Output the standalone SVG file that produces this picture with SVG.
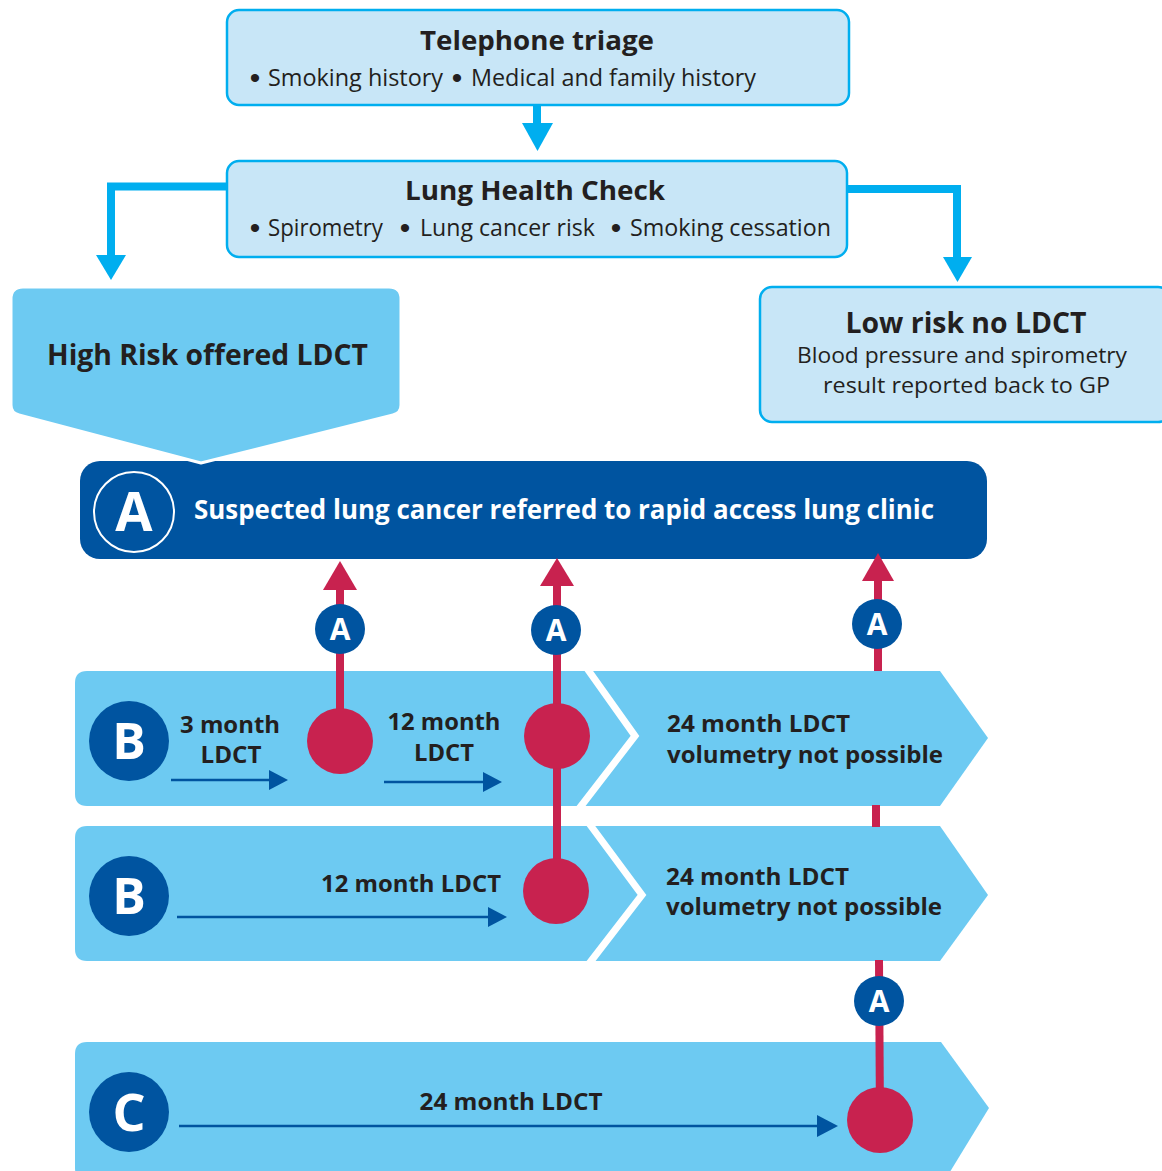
<svg xmlns="http://www.w3.org/2000/svg" width="1162" height="1171" viewBox="0 0 1162 1171">
<style>
.box{fill:#c8e6f7;stroke:#00aeef;stroke-width:2.5}
.row{fill:#6dcaf2}
.t{font-family:'Open Sans','Noto Sans',sans-serif;fill:#231f20}
.b{font-weight:700}
.w{fill:#fff}
.bul{font-family:'Liberation Sans',Arial,sans-serif;font-size:30px;text-anchor:middle;fill:#231f20}
.cy{stroke:#00aeef;stroke-width:8;fill:none}
.cyh{fill:#00aeef}
.red{stroke:#c8224f;stroke-width:8}
.redh{fill:#c8224f}
.dot{fill:#c8224f}
.nav{stroke:#0054a0;stroke-width:2.5}
.navh{fill:#0054a0}
.dk{fill:#0054a0}
.chev{fill:none;stroke:#fff;stroke-width:7}
</style>
<rect width="1162" height="1171" fill="#fff"/>

<g id="telephone-triage">
<rect class="box" x="227" y="10" width="622" height="95" rx="12"/>
<text class="t b" x="537" y="50" font-size="27" text-anchor="middle" textLength="234" lengthAdjust="spacingAndGlyphs">Telephone triage</text>
<text class="bul" x="255" y="88">•</text>
<text class="t" x="268" y="86" font-size="23" textLength="175" lengthAdjust="spacingAndGlyphs">Smoking history</text>
<text class="bul" x="457" y="88">•</text>
<text class="t" x="471" y="86" font-size="23" textLength="285" lengthAdjust="spacingAndGlyphs">Medical and family history</text>
</g>

<g id="lung-health-check">
<rect class="box" x="227" y="161" width="620" height="96" rx="12"/>
<text class="t b" x="535" y="200" font-size="27" text-anchor="middle" textLength="260" lengthAdjust="spacingAndGlyphs">Lung Health Check</text>
<text class="bul" x="255" y="238">•</text>
<text class="t" x="268" y="236" font-size="23" textLength="115" lengthAdjust="spacingAndGlyphs">Spirometry</text>
<text class="bul" x="405" y="238">•</text>
<text class="t" x="420" y="236" font-size="23" textLength="175" lengthAdjust="spacingAndGlyphs">Lung cancer risk</text>
<text class="bul" x="616" y="238">•</text>
<text class="t" x="630" y="236" font-size="23" textLength="201" lengthAdjust="spacingAndGlyphs">Smoking cessation</text>
</g>

<g id="low-risk">
<rect class="box" x="760" y="287" width="410" height="135" rx="12"/>
<text class="t b" x="966" y="333" font-size="28" text-anchor="middle" textLength="241" lengthAdjust="spacingAndGlyphs">Low risk no LDCT</text>
<text class="t" x="962" y="363" font-size="22" text-anchor="middle" textLength="330" lengthAdjust="spacingAndGlyphs">Blood pressure and spirometry</text>
<text class="t" x="966.5" y="393" font-size="22" text-anchor="middle" textLength="287" lengthAdjust="spacingAndGlyphs">result reported back to GP</text>
</g>

<g id="rapid-access">
<rect x="80" y="461" width="907" height="98" rx="20" class="dk"/>
<circle cx="134" cy="512" r="40" fill="none" stroke="#fff" stroke-width="2"/>
<text class="t b w" x="134" y="531" font-size="54" text-anchor="middle">A</text>
<text class="t b w" x="194" y="519" font-size="26" textLength="740" lengthAdjust="spacingAndGlyphs">Suspected lung cancer referred to rapid access lung clinic</text>
</g>

<g id="high-risk">
<path class="row" stroke="#fff" stroke-width="3" stroke-linejoin="round" d="M23,287 H389 Q401,287 401,299 V405 Q401,413 393,415 L201,463 L19,415 Q11,413 11,405 V299 Q11,287 23,287 Z"/>
<text class="t b" x="47" y="365" font-size="28" textLength="321" lengthAdjust="spacingAndGlyphs">High Risk offered LDCT</text>
</g>

<g id="row-b1">
<path class="row" d="M87,671 H940 L988,738 L940,806 H87 Q75,806 75,794 V683 Q75,671 87,671 Z"/>
<polyline class="chev" points="586,667 635,736 578,810"/>
<circle class="dk" cx="129" cy="741" r="40"/>
<text class="t b w" x="129" y="759" font-size="50" text-anchor="middle">B</text>
<text class="t b" x="230" y="733" font-size="23" text-anchor="middle" textLength="100" lengthAdjust="spacingAndGlyphs">3 month</text>
<text class="t b" x="231" y="763" font-size="23" text-anchor="middle" textLength="61" lengthAdjust="spacingAndGlyphs">LDCT</text>
<text class="t b" x="444" y="730" font-size="23" text-anchor="middle" textLength="113" lengthAdjust="spacingAndGlyphs">12 month</text>
<text class="t b" x="444" y="761" font-size="23" text-anchor="middle" textLength="60" lengthAdjust="spacingAndGlyphs">LDCT</text>
<text class="t b" x="667" y="732" font-size="24" textLength="183" lengthAdjust="spacingAndGlyphs">24 month LDCT</text>
<text class="t b" x="667" y="763" font-size="24" textLength="276" lengthAdjust="spacingAndGlyphs">volumetry not possible</text>
<line class="nav" x1="171" y1="780" x2="272" y2="780"/>
<polygon class="navh" points="269,770 288,780 269,790"/>
<line class="nav" x1="384" y1="782" x2="486" y2="782"/>
<polygon class="navh" points="483,772 502,782 483,792"/>
</g>

<g id="row-b2">
<path class="row" d="M87,826 H940 L988,895 L940,961 H87 Q75,961 75,949 V838 Q75,826 87,826 Z"/>
<polyline class="chev" points="588,822 642,895 588,965"/>
<circle class="dk" cx="129" cy="896" r="40"/>
<text class="t b w" x="129" y="914" font-size="50" text-anchor="middle">B</text>
<text class="t b" x="501" y="892" font-size="24" text-anchor="end" textLength="180" lengthAdjust="spacingAndGlyphs">12 month LDCT</text>
<text class="t b" x="666" y="885" font-size="24" textLength="183" lengthAdjust="spacingAndGlyphs">24 month LDCT</text>
<text class="t b" x="666" y="915" font-size="24" textLength="276" lengthAdjust="spacingAndGlyphs">volumetry not possible</text>
<line class="nav" x1="177" y1="917" x2="490" y2="917"/>
<polygon class="navh" points="488,907 507,917 488,927"/>
</g>

<g id="row-c">
<path class="row" d="M87,1042 H941 L989,1108 L945,1180 H87 Q75,1180 75,1168 V1054 Q75,1042 87,1042 Z"/>
<circle class="dk" cx="129" cy="1112" r="40"/>
<text class="t b w" x="129" y="1131" font-size="52" text-anchor="middle">C</text>
<text class="t b" x="511" y="1110" font-size="24" text-anchor="middle" textLength="183" lengthAdjust="spacingAndGlyphs">24 month LDCT</text>
<line class="nav" x1="179" y1="1126" x2="820" y2="1126"/>
<polygon class="navh" points="817,1115 838,1126 817,1137"/>
</g>

<g id="connectors">
<line class="cy" x1="537" y1="105" x2="537" y2="126"/>
<polygon class="cyh" points="522,123 553,123 537.5,151"/>
<polyline class="cy" points="227,186.5 111,186.5 111,258"/>
<polygon class="cyh" points="96,255 126,255 111,280"/>
<polyline class="cy" points="847,189 957,189 957,260"/>
<polygon class="cyh" points="943,257 972,257 957.5,282"/>

<line class="red" x1="340" y1="588" x2="340" y2="740"/>
<polygon class="redh" points="323,590 340,561 357,590"/>
<line class="red" x1="557" y1="583" x2="557" y2="891"/>
<polygon class="redh" points="540,586 557,558 574,586"/>
<line class="red" x1="878" y1="578" x2="878" y2="671"/>
<line class="red" x1="876" y1="805" x2="876" y2="827"/>
<line class="red" x1="879" y1="960" x2="880" y2="1120"/>
<polygon class="redh" points="862,581 878,553 894,581"/>
</g>

<g id="results">
<circle class="dot" cx="340" cy="741" r="33"/>
<circle class="dot" cx="557" cy="736" r="33"/>
<circle class="dot" cx="556" cy="891" r="33"/>
<circle class="dot" cx="880" cy="1120" r="33"/>
</g>

<g id="referral-badges">
<circle class="dk" cx="340" cy="629" r="25"/>
<text class="t b w" x="340" y="640" font-size="30" text-anchor="middle">A</text>
<circle class="dk" cx="556" cy="630" r="25"/>
<text class="t b w" x="556" y="641" font-size="30" text-anchor="middle">A</text>
<circle class="dk" cx="877" cy="624" r="25"/>
<text class="t b w" x="877" y="635" font-size="30" text-anchor="middle">A</text>
<circle class="dk" cx="879" cy="1001" r="25"/>
<text class="t b w" x="879" y="1012" font-size="30" text-anchor="middle">A</text>
</g>
</svg>
